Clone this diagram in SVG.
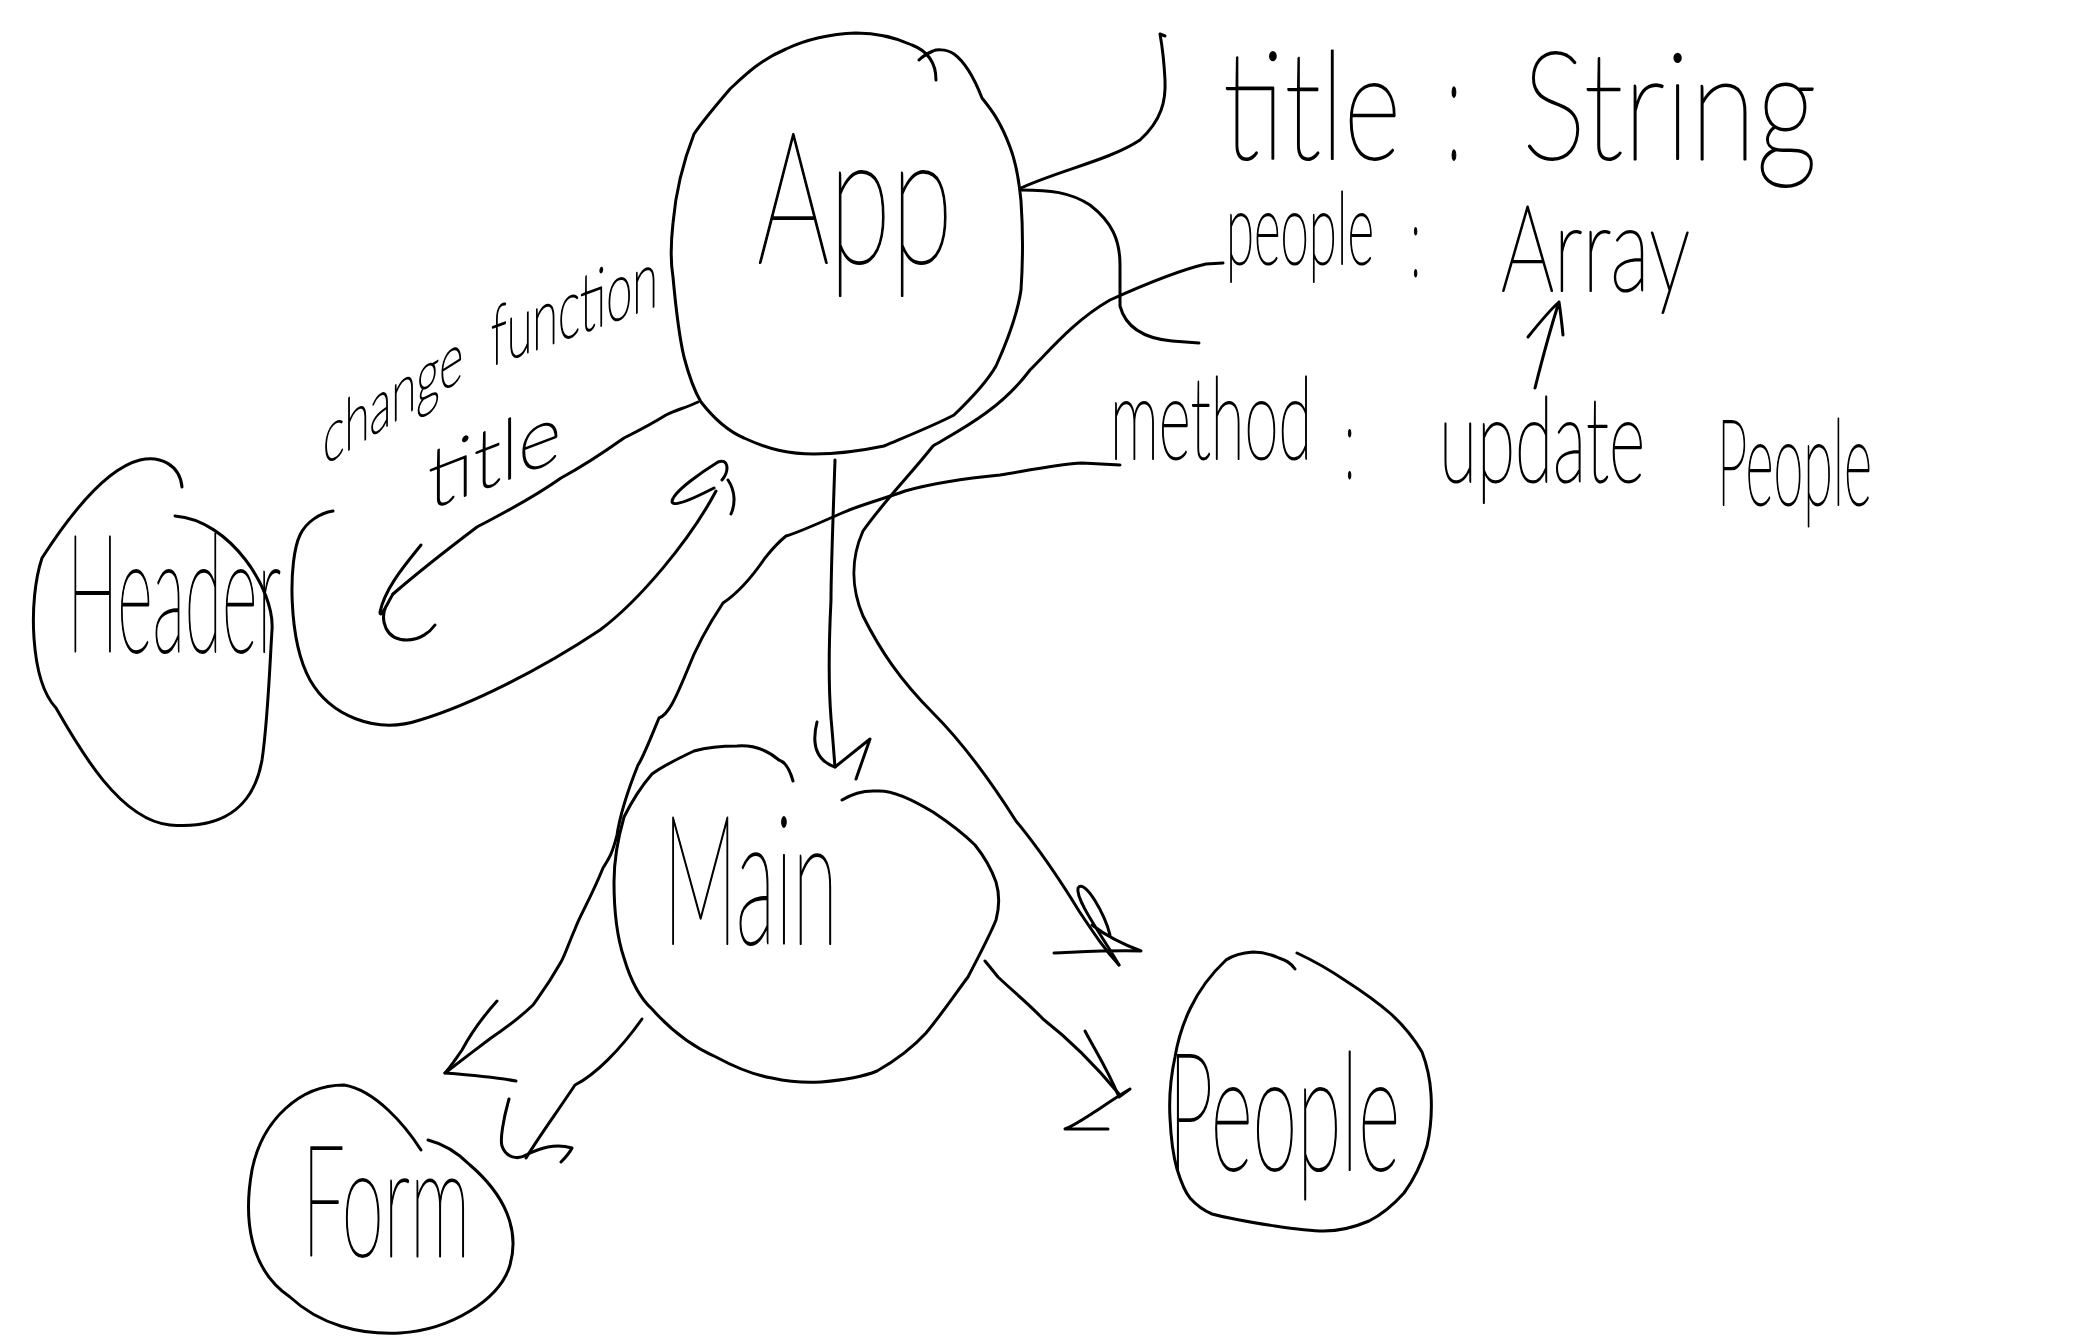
<svg xmlns="http://www.w3.org/2000/svg" width="2076" height="1338" viewBox="0 0 2076 1338">
  <style>
    .ink { fill: none; stroke: #000; stroke-width: 3; stroke-linecap: round; stroke-linejoin: round; }
    .hand { font-family: "Lato", "Roboto", "Open Sans", sans-serif; font-weight: 100; fill: #000; stroke: #000; stroke-width: 1.6; stroke-linejoin: round; vector-effect: non-scaling-stroke; }
  </style>
  <rect width="2076" height="1338" fill="#fff"/>

  <!-- connectors -->
  <g id="connectors" class="ink">
    <!-- App -> title : String bracket -->
    <path d="M1021,188 C1060,170 1110,160 1140,140 C1162,120 1166,100 1165,80 C1164,60 1162,45 1160,34 L1165,36"/>
    <!-- App -> people bracket -->
    <path d="M1021,190 C1050,190 1070,192 1090,205 C1112,222 1120,240 1120,265 L1120,306 C1125,325 1140,338 1172,341 L1199,343"/>
    <!-- people -> People component -->
    <path d="M1223,263 L1206,264 C1180,270 1150,282 1110,300 C1075,320 1050,350 1030,370 C1000,410 960,430 933,446 C910,475 885,500 863,531 C850,560 852,590 863,616 C880,650 900,680 933,713 C960,740 990,780 1016,821 C1040,850 1060,880 1079,911 C1095,935 1105,950 1119,965"/>
    <path d="M1119,965 C1105,940 1075,900 1078,888 C1085,878 1105,915 1110,935 M1054,953 C1080,952 1110,950 1141,951 C1125,945 1105,935 1092,925"/>
    <!-- method -> Form -->
    <path d="M1120,465 L1082,463 C1060,464 1030,470 1000,475 C968,478 930,484 905,491 C880,500 860,505 842,513 C815,525 790,535 786,536 C775,545 770,552 765,558 C750,580 735,595 723,603 C705,630 695,650 687,671 C675,700 668,715 659,718 C650,740 642,760 638,765 C628,790 620,815 617,835 C612,855 608,860 603,868 C590,900 580,915 575,929 C568,945 565,955 561,962 C548,985 540,995 533,1005 C515,1022 500,1032 491,1038 C475,1050 462,1060 445,1073"/>
    <path d="M497,1001 C480,1020 470,1035 462,1050 C455,1060 450,1068 445,1073 C470,1075 495,1077 516,1081"/>
    <!-- App -> Main -->
    <path d="M835,460 C833,520 831,570 831,600 C829,640 828,680 831,718 C833,740 834,755 835,767"/>
    <path d="M817,722 C812,742 815,760 835,767 L870,739 L856,779"/>
    <!-- App -> Header (change function title) -->
    <path d="M698,402 C685,408 676,410 666,415 C650,425 640,430 624,438 C600,455 585,465 561,478 C530,500 505,512 477,527 C440,555 415,575 393,594"/>
    <path d="M421,545 C405,565 385,588 380,612 C380,620 388,602 393,594 M386,606 C380,620 385,640 407,640 C420,640 430,632 435,625"/>
    <!-- Header -> App (back) -->
    <path d="M716,491 C690,540 640,600 600,630 C540,670 470,705 420,720 C375,735 330,715 310,680 C288,640 288,560 300,535 C306,522 320,513 333,511"/>
    <path d="M714,488 C700,495 675,508 672,502 C672,492 705,470 718,462 C728,458 730,470 722,480 M728,480 C736,492 735,505 731,514"/>
    <!-- Main -> Form -->
    <path d="M642,1019 C620,1050 595,1075 575,1085 C555,1115 540,1135 526,1158"/>
    <path d="M509,1099 C503,1120 500,1140 502,1146 C506,1158 518,1160 526,1155 C540,1148 555,1143 572,1148 C570,1152 565,1158 561,1162"/>
    <!-- Main -> People -->
    <path d="M985,961 C990,967 994,972 998,977 C1015,993 1030,1005 1043,1019 C1070,1040 1095,1065 1119,1094"/>
    <path d="M1085,1031 C1095,1050 1108,1070 1119,1097 L1130,1089 C1115,1098 1105,1105 1096,1111 C1085,1118 1075,1125 1065,1129 L1108,1129"/>
    <!-- Array marker arrow -->
    <path d="M1535,388 C1542,360 1550,330 1559,302 M1528,337 C1540,322 1550,310 1559,302 C1561,315 1562,325 1563,335"/>
  </g>

  <!-- App -->
  <g id="node-app">
    <path class="ink" d="M936,80 C936,65 930,52 912,45 C890,35 870,33 856,33 C830,34 805,40 786,49 C760,60 745,75 730,89 C712,110 700,125 694,134 C680,170 675,200 673,223 C670,250 671,265 673,277 C676,310 680,340 684,357 C690,380 695,392 701,402 C715,420 730,432 744,438 C770,450 790,454 814,454 C840,454 865,450 884,446 C910,435 935,425 954,415 C975,395 988,380 996,366 C1010,335 1018,310 1021,290 C1023,260 1023,230 1021,201 C1019,180 1015,160 1010,147 C1000,120 990,108 982,98 C975,80 965,62 954,54 C945,48 935,50 933,51 C926,54 922,57 919,60"/>
    <text class="hand" x="757" y="263" font-size="109" textLength="196" lengthAdjust="spacingAndGlyphs" transform="matrix(1 0 0 1.7 0 -184.1)">App</text>
  </g>

  <!-- App attributes -->
  <g id="attr-title">
    <text class="hand" x="1223" y="159" font-size="59" textLength="178" lengthAdjust="spacingAndGlyphs" transform="matrix(1 0 0 2.54 0 -244.86)">title</text>
    <text class="hand" x="1447" y="159" font-size="60" transform="matrix(1 0 0 2.5 0 -238.5)">:</text>
    <text class="hand" x="1522" y="159" font-size="82" textLength="295" lengthAdjust="spacingAndGlyphs" transform="matrix(1 0 0 1.83 0 -131.97)">String</text>
  </g>
  <g id="attr-people">
    <text class="hand" x="1226" y="264" font-size="41" textLength="148" lengthAdjust="spacingAndGlyphs" transform="matrix(1 0 0 2.44 0 -380.16)">people</text>
    <text class="hand" x="1411" y="276" font-size="40" transform="matrix(1 0 0 2.5 0 -414)">:</text>
    <text class="hand" x="1501" y="291" font-size="63" textLength="189" lengthAdjust="spacingAndGlyphs" transform="matrix(1 0 0 1.9 0 -261.9)">Array</text>
  </g>
  <g id="attr-method">
    <text class="hand" x="1110" y="459" font-size="56" textLength="202" lengthAdjust="spacingAndGlyphs" transform="matrix(1 0 0 2.05 0 -481.95)">method</text>
    <text class="hand" x="1345" y="478" font-size="40" transform="matrix(1 0 0 2.5 0 -717)">:</text>
    <text class="hand" x="1439" y="482" font-size="57" textLength="206" lengthAdjust="spacingAndGlyphs" transform="matrix(1 0 0 2.07 0 -515.74)">update</text>
    <text class="hand" x="1717" y="505" font-size="43" textLength="155" lengthAdjust="spacingAndGlyphs" transform="matrix(1 0 0 2.79 0 -903.95)">People</text>
  </g>

  <!-- edge label: change function / title -->
  <g id="label-change">
    <text class="hand" x="323" y="466" font-size="39" textLength="140" lengthAdjust="spacingAndGlyphs" transform="translate(323,466) skewY(-32) scale(1,1.85) translate(-323,-466)">change</text>
    <text class="hand" x="491" y="366" font-size="35" textLength="167" lengthAdjust="spacingAndGlyphs" transform="translate(491,366) skewY(-20) scale(1,2.34) translate(-491,-366)">function</text>
    <text class="hand" x="428" y="510" font-size="44" textLength="133" lengthAdjust="spacingAndGlyphs" transform="translate(428,510) skewY(-21) scale(1,1.9) translate(-428,-510)">title</text>
  </g>

  <!-- Header -->
  <g id="node-header">
    <path class="ink" d="M182,487 C180,465 160,455 140,460 C100,470 60,530 42,558 C28,600 30,680 56,708 C80,750 120,820 170,825 C230,830 255,800 262,760 C268,720 270,660 272,630 C275,590 230,520 175,516"/>
    <text class="hand" x="67" y="652" font-size="59" textLength="214" lengthAdjust="spacingAndGlyphs" transform="matrix(1 0 0 2.8 0 -1173.6)">Header</text>
  </g>

  <!-- Main -->
  <g id="node-main">
    <path class="ink" d="M793,781 C790,770 785,762 779,760 C765,748 750,745 737,746 C720,746 705,748 694,751 C675,760 660,768 652,774 C638,790 630,805 624,817 C616,845 614,865 614,882 C614,915 618,940 624,958 C632,985 642,1000 652,1009 C675,1035 700,1050 716,1057 C740,1070 760,1076 772,1078 C790,1082 805,1083 821,1082 C845,1080 865,1076 877,1071 C900,1058 915,1045 926,1033 C945,1010 958,990 968,977 C982,950 990,935 996,920 C1000,905 999,892 996,882 C990,865 983,855 975,845 C960,830 945,820 933,812 C910,798 890,790 877,791 C860,790 850,795 842,800"/>
    <text class="hand" x="663" y="944" font-size="73" textLength="175" lengthAdjust="spacingAndGlyphs" transform="matrix(1 0 0 2.47 0 -1387.68)">Main</text>
  </g>

  <!-- Form -->
  <g id="node-form">
    <path class="ink" d="M421,1150 C405,1125 375,1090 344,1085 C300,1085 262,1120 252,1170 C243,1220 250,1270 290,1297 C320,1325 360,1335 400,1333 C450,1330 500,1300 510,1265 C520,1230 505,1195 470,1165 C455,1150 440,1143 428,1140"/>
    <text class="hand" x="302" y="1256" font-size="70" textLength="168" lengthAdjust="spacingAndGlyphs" transform="matrix(1 0 0 2.2 0 -1507.2)">Form</text>
  </g>

  <!-- People -->
  <g id="node-people">
    <path class="ink" d="M1295,969 C1290,962 1285,960 1279,958 C1268,953 1260,952 1253,952 C1240,953 1232,956 1226,960 C1210,975 1198,992 1190,1009 C1180,1030 1177,1045 1175,1057 C1170,1080 1169,1100 1170,1118 C1171,1140 1173,1155 1177,1169 C1181,1182 1185,1192 1190,1198 C1198,1207 1205,1211 1212,1214 C1235,1220 1255,1223 1275,1226 C1295,1229 1310,1231 1324,1231 C1340,1231 1355,1227 1369,1221 C1385,1213 1395,1203 1404,1193 C1415,1178 1422,1162 1427,1146 C1431,1128 1432,1110 1431,1094 C1430,1078 1427,1065 1422,1052 C1412,1035 1402,1024 1391,1014 C1375,1000 1360,990 1346,981 C1330,970 1312,960 1297,953"/>
    <text class="hand" x="1168" y="1170" font-size="64" textLength="232" lengthAdjust="spacingAndGlyphs" transform="matrix(1 0 0 2.58 0 -1848.6)">People</text>
  </g>
</svg>
